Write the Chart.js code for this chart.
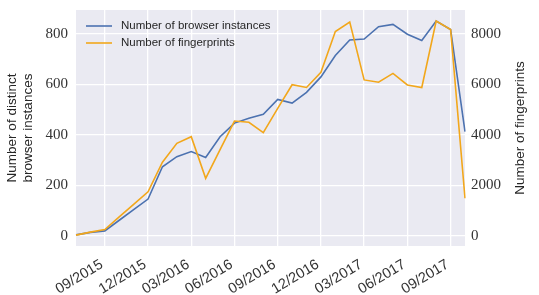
<!DOCTYPE html>
<html>
<head>
<meta charset="utf-8">
<script src="https://cdn.jsdelivr.net/npm/chart.js@4"></script>
<style>
html,body{margin:0;padding:0;background:#fff;}
#wrap{width:539px;height:295px;position:relative;}
</style>
</head>
<body>
<div id="wrap"><canvas id="c" width="539" height="295"></canvas></div>
<script>
const months = ['07/2015','08/2015','09/2015','10/2015','11/2015','12/2015',
  '01/2016','02/2016','03/2016','04/2016','05/2016','06/2016','07/2016','08/2016','09/2016','10/2016','11/2016','12/2016',
  '01/2017','02/2017','03/2017','04/2017','05/2017','06/2017','07/2017','08/2017','09/2017','10/2017'];
const browserInstances = [4, 14, 20, 62, 104, 146, 274, 314, 334, 311, 393, 447, 466, 482, 541, 526, 569, 630,
  715, 776, 780, 829, 838, 799, 774, 851, 818, 413];
const fingerprints = [30, 150, 250, 750, 1250, 1750, 2920, 3670, 3930, 2280, 3420, 4550, 4500, 4090, 5050, 5990, 5880, 6480,
  8100, 8470, 6180, 6090, 6440, 5980, 5880, 8510, 8180, 1490];
const shownTicks = ['09/2015','12/2015','03/2016','06/2016','09/2016','12/2016','03/2017','06/2017','09/2017'];
const leftTicks = [0, 200, 400, 600, 800];
const rightTicks = [0, 2000, 4000, 6000, 8000];

const BLUE = '#4C72B0';
const ORANGE = '#F2A71B';
const BG = '#EAEAF2';

const bgPlugin = {
  id: 'bg',
  beforeDraw(chart) {
    const {ctx, chartArea: a} = chart;
    ctx.save();
    ctx.fillStyle = BG;
    ctx.fillRect(a.left, a.top, a.right - a.left, a.bottom - a.top);
    ctx.restore();
  }
};

const overlayPlugin = {
  id: 'overlay',
  afterDraw(chart) {
    const {ctx, chartArea: a} = chart;
    ctx.save();
    const items = [[BLUE, 'Number of browser instances'], [ORANGE, 'Number of fingerprints']];
    ctx.font = '11.5px "Liberation Sans"';
    ctx.textBaseline = 'middle';
    items.forEach((it, i) => {
      const y = 26 + i * 17;
      ctx.strokeStyle = it[0];
      ctx.lineWidth = 1.6;
      ctx.beginPath();
      ctx.moveTo(86, y);
      ctx.lineTo(112, y);
      ctx.stroke();
      ctx.fillStyle = '#262626';
      ctx.textAlign = 'left';
      ctx.fillText(it[1], 121, y);
    });
    const midY = (a.top + a.bottom) / 2;
    ctx.font = '13.5px "Liberation Sans"';
    ctx.fillStyle = '#262626';
    ctx.textAlign = 'center';
    ctx.translate(12, midY);
    ctx.rotate(-Math.PI / 2);
    ctx.fillText('Number of distinct', 0, 0);
    ctx.fillText('browser instances', 0, 16);
    ctx.setTransform(1, 0, 0, 1, 0, 0);
    ctx.translate(520, midY);
    ctx.rotate(-Math.PI / 2);
    ctx.fillText('Number of fingerprints', 0, 0);
    ctx.restore();
  }
};

function noVPad(s) { s.paddingTop = 0; s.paddingBottom = 0; }

new Chart(document.getElementById('c'), {
  type: 'line',
  data: {
    labels: months,
    datasets: [
      {label: 'Number of browser instances', data: browserInstances, borderColor: BLUE, backgroundColor: BLUE,
       borderWidth: 1.6, pointRadius: 0, tension: 0, yAxisID: 'y', order: 1},
      {label: 'Number of fingerprints', data: fingerprints, borderColor: ORANGE, backgroundColor: ORANGE,
       borderWidth: 1.6, pointRadius: 0, tension: 0, yAxisID: 'y1', order: 0}
    ]
  },
  options: {
    responsive: false,
    animation: false,
    layout: {padding: {top: 10, left: 0, right: 0, bottom: 0}},
    plugins: {legend: {display: false}, tooltip: {enabled: false}},
    scales: {
      x: {
        type: 'category',
        offset: false,
        border: {display: false},
        grid: {
          color: (c) => (c.index !== undefined && shownTicks.includes(months[c.index])) ? '#ffffff' : 'rgba(0,0,0,0)',
          lineWidth: 1.3, drawTicks: false
        },
        ticks: {
          autoSkip: false, minRotation: 31, maxRotation: 31, padding: 10, labelOffset: -3,
          color: '#333', font: {family: '"Liberation Sans"', size: 14.5},
          callback: (v, i) => shownTicks.includes(months[i]) ? months[i] : ''
        },
        afterFit: (s) => { s.height = 49; s.paddingLeft = 0; s.paddingRight = 0; }
      },
      y: {
        position: 'left', min: -40, max: 895,
        border: {display: false},
        grid: {color: '#ffffff', lineWidth: 1.3, drawTicks: false},
        afterBuildTicks: (s) => { s.ticks = leftTicks.map(v => ({value: v})); },
        ticks: {color: '#333', padding: 8, font: {family: '"Liberation Serif"', size: 15}},
        afterFit: (s) => { s.width = 76; noVPad(s); }
      },
      y1: {
        position: 'right', min: -400, max: 8950,
        border: {display: false},
        grid: {display: false, drawTicks: false},
        afterBuildTicks: (s) => { s.ticks = rightTicks.map(v => ({value: v})); },
        ticks: {color: '#333', padding: 6, font: {family: '"Liberation Serif"', size: 15},
                callback: (v) => String(v)},
        afterFit: (s) => { s.width = 74; noVPad(s); }
      }
    }
  },
  plugins: [bgPlugin, overlayPlugin]
});
</script>
</body>
</html>
